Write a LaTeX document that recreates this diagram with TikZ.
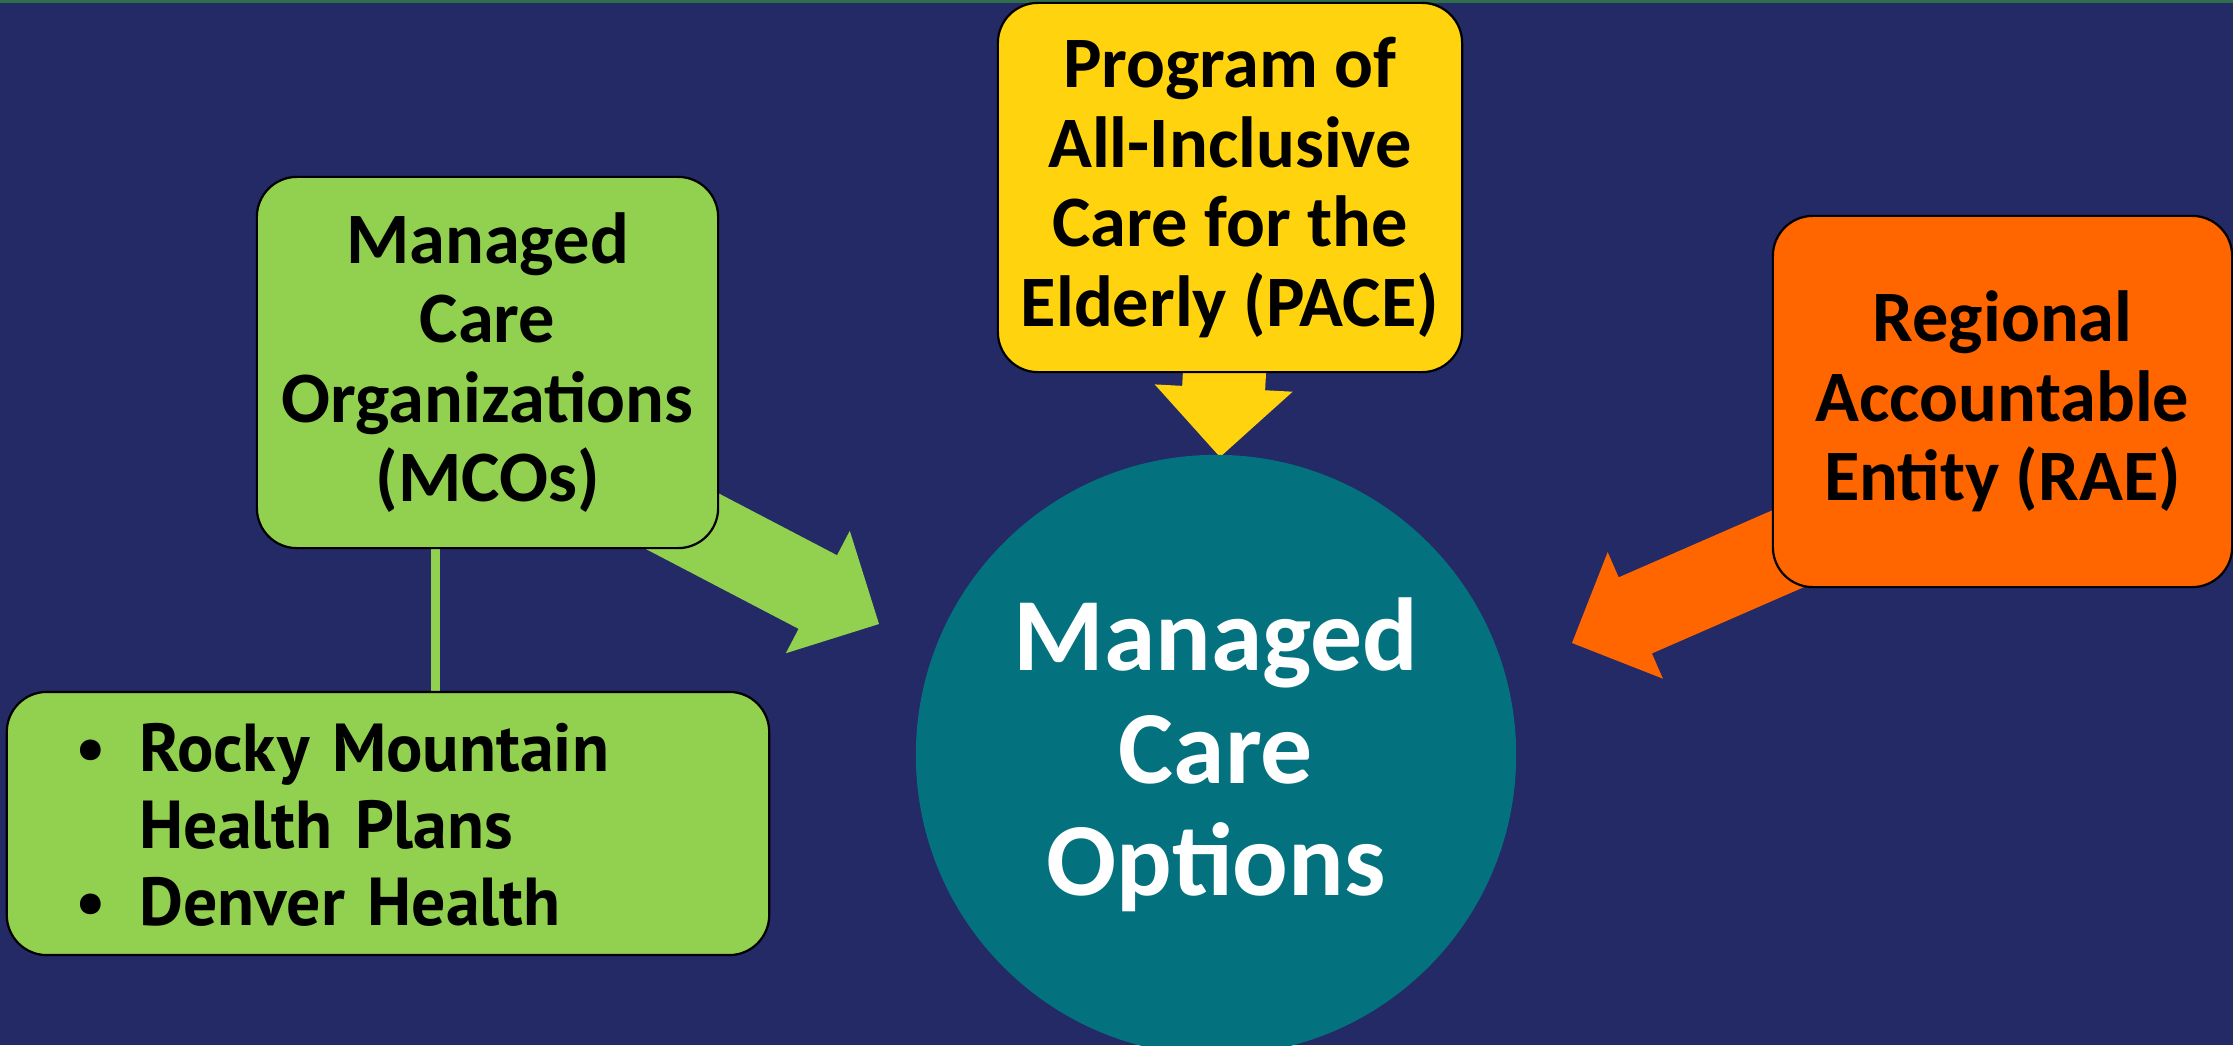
\documentclass[tikz,border=0pt]{standalone}
\usepackage{fontspec}
\setmainfont{Carlito}
\newfontfamily\plansfont{PT Sans}
\usetikzlibrary{calc}
\definecolor{navy}{RGB}{35,42,102}
\definecolor{topgreen}{RGB}{46,110,74}
\definecolor{optteal}{RGB}{3,114,126}
\definecolor{mcogreen}{RGB}{146,208,80}
\definecolor{paceyellow}{RGB}{255,211,14}
\definecolor{raeorange}{RGB}{255,102,0}
\pgfdeclarelayer{canvas}
\pgfdeclarelayer{links}
\pgfsetlayers{canvas,links,main}
\newcommand{\blockarrow}[3]{%
  \coordinate (ab) at ($(#3)!0.69cm!(#2)$);
  \fill[#1] ($(#2)!0.415cm!90:(#3)$) -- ($(ab)!0.415cm!90:(#3)$) -- ($(ab)!0.69cm!90:(#3)$) -- (#3)
    -- ($(ab)!0.69cm!-90:(#3)$) -- ($(ab)!0.415cm!-90:(#3)$) -- ($(#2)!0.415cm!-90:(#3)$) -- cycle;
}

\begin{document}
\begin{tikzpicture}[x=0.01cm,y=-0.01cm,
  box/.style={rounded corners=0.4cm,draw=black,line width=0.022cm,inner sep=0pt,align=center,
    font=\bfseries\fontsize{20.6}{22.6}\selectfont},
  hub/.style={circle,fill=optteal,minimum size=6cm,inner sep=0pt,align=center,text=white,
    font=\bfseries\fontsize{29.5}{32}\selectfont},
  link/.style={mcogreen,line width=0.09cm}]
  \useasboundingbox (0,0) rectangle (2233,1045);
  \node[hub] (options) at (1216,755) {Managed\\Care\\Options};
  \node[box,fill=mcogreen,minimum width=4.61cm,minimum height=3.71cm] (mco) at (487.5,362.5)
    {Managed\\Care\\Organizations\\(MCOs)};
  \node[box,fill=paceyellow,minimum width=4.64cm,minimum height=3.69cm] (pace) at (1230,187.5)
    {Program of\\All-Inclusive\\Care for the\\Elderly (PACE)};
  \node[box,fill=raeorange,minimum width=4.59cm,minimum height=3.71cm] (rae) at (2002.5,401.5)
    {Regional\\Accountable\\Entity (RAE)};
  \node[box,fill=mcogreen,minimum width=7.62cm,minimum height=2.63cm,text width=6.24cm,inner xsep=0.69cm,
    align=left,font=\plansfont\bfseries\fontsize{19.3}{21.9}\selectfont] (plans) at (388,823.5) {
    \raisebox{-0.1cm}[\height][\depth]{\begin{tabular}{@{}l@{\hspace{0.33cm}}l@{}}
      \textbullet & Rocky Mountain\\
      & Health Plans\\
      \textbullet & Denver Health
    \end{tabular}}
  };
  \coordinate (mcofrom) at (613,485);
  \coordinate (mcoto) at (879,624);
  \coordinate (pacefrom) at (1229,287);
  \coordinate (paceto) at (1220,457);
  \coordinate (raefrom) at (1847,523);
  \coordinate (raeto) at (1572,643);
  \begin{pgfonlayer}{canvas}
    \fill[navy] (0,0) rectangle (2233,1045);
    \fill[topgreen] (0,0) rectangle (2233,3);
  \end{pgfonlayer}
  \begin{pgfonlayer}{links}
    \draw[link] ([xshift=-0.515cm]mco.south) -- ([xshift=-0.515cm]mco.south |- plans.north);
    \blockarrow{mcogreen}{mcofrom}{mcoto}
    \blockarrow{paceyellow}{pacefrom}{paceto}
    \blockarrow{raeorange}{raefrom}{raeto}
  \end{pgfonlayer}
\end{tikzpicture}
\end{document}
